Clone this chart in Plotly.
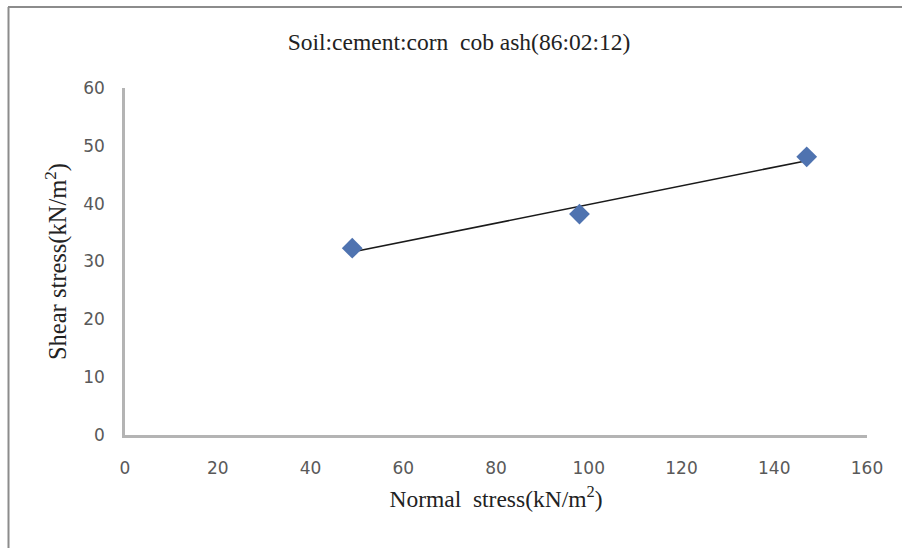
import numpy as np
import plotly.graph_objects as go

normal_stress = [49, 98, 147]
shear_stress = [32.3, 38.2, 48.1]
x_ticks = [0, 20, 40, 60, 80, 100, 120, 140, 160]
y_ticks = [0, 10, 20, 30, 40, 50, 60]

W, H = 902, 548
L, R, T, B = 125, 35, 88, 113

coef = np.polyfit(normal_stress, shear_stress, 1)
trend_x = [min(normal_stress), max(normal_stress)]
trend_y = list(np.polyval(coef, trend_x))

SERIF = "Liberation Serif"
SANS = "DejaVu Sans"

fig = go.Figure()
fig.add_trace(go.Scatter(x=trend_x, y=trend_y, mode="lines",
                         line=dict(color="#1a1a1a", width=1.6), showlegend=False))
fig.add_trace(go.Scatter(x=normal_stress, y=shear_stress, mode="markers",
                         marker=dict(symbol="diamond", size=16, color="#4f73b0",
                                     line=dict(width=0)), showlegend=False))

pw = W - L - R
ph = H - T - B
def px_x(p):
    return (p - L) / pw
def px_y(p):
    return (H - B - p) / ph

fig.update_layout(
    width=W, height=H,
    margin=dict(l=L, r=R, t=T, b=B),
    paper_bgcolor="white", plot_bgcolor="white",
    showlegend=False,
    xaxis=dict(range=[0, 160], tickvals=x_ticks, showgrid=False, zeroline=False,
               showline=True, linecolor="#b4b4b4", linewidth=2.5,
               ticks="outside", ticklen=16, tickcolor="rgba(0,0,0,0)",
               tickfont=dict(family=SANS, size=17, color="#595959"),
               title=dict(text="Normal\u00a0 stress(kN/m<sup>2</sup>)",
                          font=dict(family=SERIF, size=23.5, color="#222"),
                          standoff=14)),
    yaxis=dict(range=[0, 60], tickvals=y_ticks, showgrid=False, zeroline=False,
               showline=True, linecolor="#b4b4b4", linewidth=2.5,
               ticks="outside", ticklen=14, tickcolor="rgba(0,0,0,0)",
               tickfont=dict(family=SANS, size=17, color="#595959"),
               title=dict(text="Shear stress(kN/m<sup>2</sup>)",
                          font=dict(family=SERIF, size=24.5, color="#222"),
                          standoff=10)),
    title=dict(text="Soil:cement:corn\u00a0 cob ash(86:02:12)",
               x=459 / W, xanchor="center", y=1 - 42 / H, yanchor="middle",
               font=dict(family=SERIF, size=23.5, color="#222")),
    shapes=[
        dict(type="line", xref="paper", yref="paper",
             x0=px_x(8.5), x1=px_x(8.5), y0=px_y(7), y1=px_y(548),
             line=dict(color="#8c8c8c", width=2)),
        dict(type="line", xref="paper", yref="paper",
             x0=px_x(8), x1=px_x(902), y0=px_y(7), y1=px_y(7),
             line=dict(color="#8c8c8c", width=2)),
    ],
)

fig.write_html("out.html")
